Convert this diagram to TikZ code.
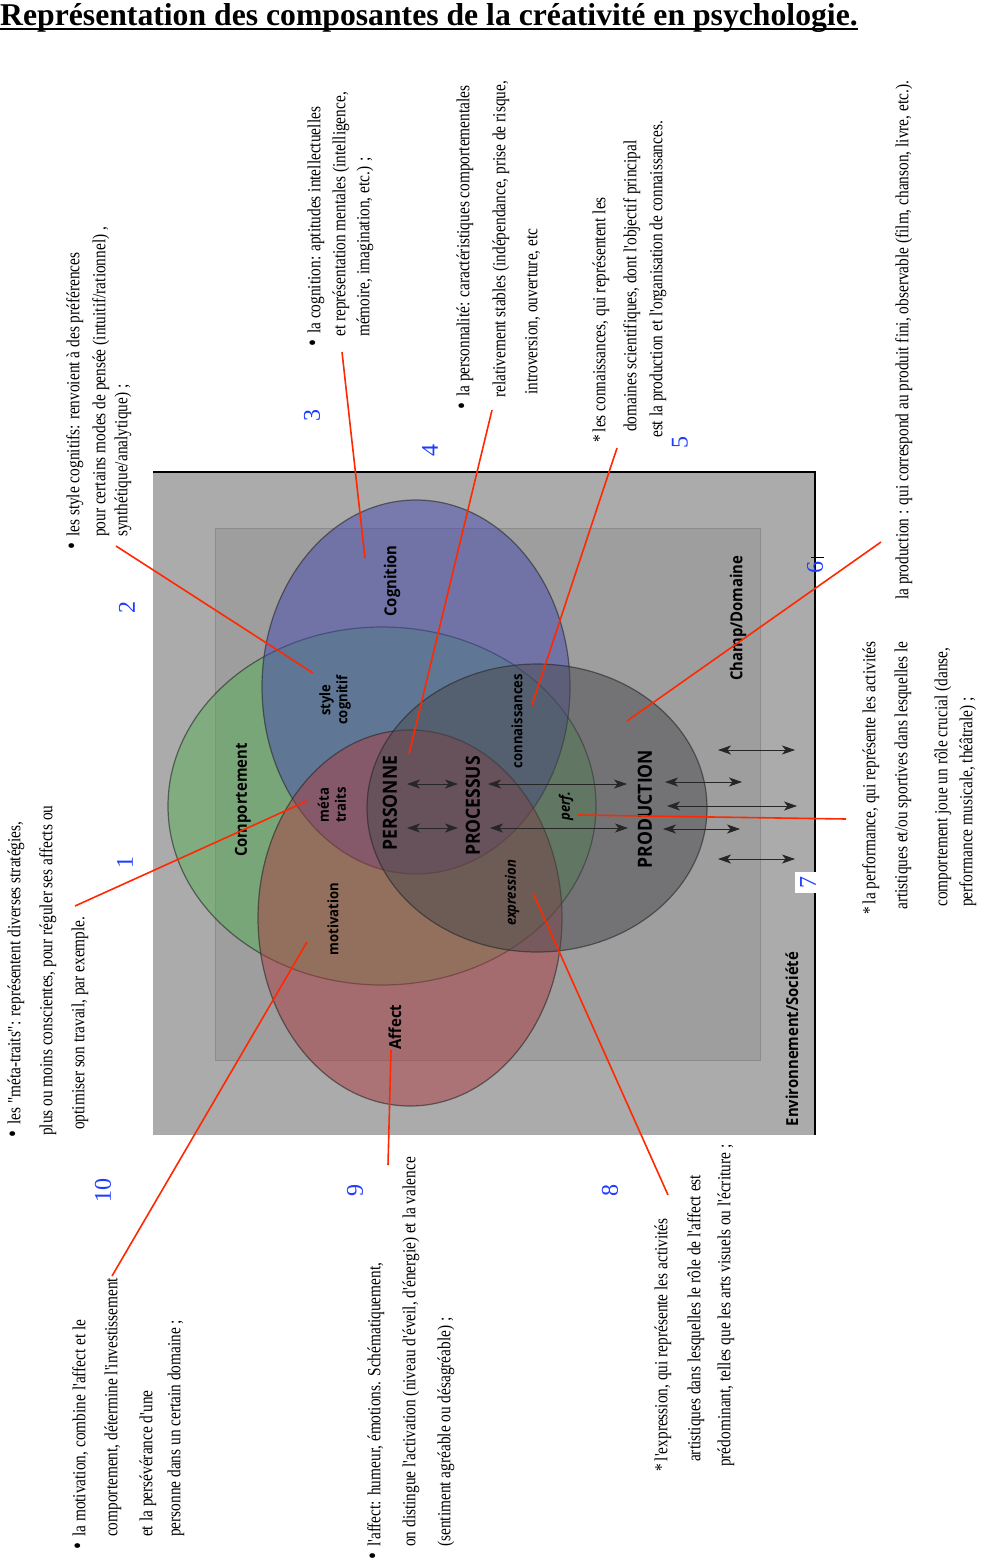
\documentclass[tikz,border=0pt]{standalone}
\usepackage{fontspec}
\setmainfont{Liberation Serif}
\newfontfamily\condfont[FakeStretch=0.83]{Liberation Serif}
\newfontfamily\lblfont[FakeStretch=0.9]{Open Sans}
\usetikzlibrary{arrows.meta}
\definecolor{envgray}{RGB}{171,171,171}
\definecolor{innergray}{RGB}{158,158,158}
\definecolor{cblue}{RGB}{70,74,176}
\definecolor{cgreen}{RGB}{86,174,86}
\definecolor{cred}{RGB}{172,60,66}
\definecolor{cprod}{RGB}{74,74,78}
\definecolor{leader}{RGB}{255,40,0}
\definecolor{numblue}{RGB}{30,60,255}
\newcommand{\noteline}[4]{\node[note] (#1) at (#2,#3) {#4};}
\newcommand{\bigbul}{{\fontsize{24}{20}\selectfont •}\hspace{6pt}}
\begin{document}
\begin{tikzpicture}[x=1pt,y=-1pt,
  note/.style={rotate=90,anchor=mid west,inner sep=0pt,font=\condfont\fontsize{18.5}{20}\selectfont},
  num/.style={rotate=90,inner sep=0pt,text=numblue,font=\fontsize{24}{28}\selectfont},
  lbl/.style={rotate=90,inner sep=0pt,font=\lblfont\bfseries\fontsize{16.5}{18}\selectfont},
  biglbl/.style={rotate=90,inner sep=0pt,font=\lblfont\bfseries\fontsize{19.5}{21}\selectfont},
  smalllbl/.style={rotate=90,inner sep=0pt,align=center,font=\lblfont\bfseries\fontsize{14.5}{17}\selectfont},
  itlbl/.style={rotate=90,inner sep=0pt,font=\lblfont\bfseries\itshape\fontsize{14.5}{17}\selectfont},
  lead/.style={draw=leader,line width=1.6pt},
  dbl/.style={{Stealth[length=13pt,width=9pt,inset=3.5pt]}-{Stealth[length=13pt,width=9pt,inset=3.5pt]},line width=0.8pt,black!85},
  venn/.style={fill opacity=0.5,draw opacity=0.6,draw=black!85,line width=1.2pt}
]
\useasboundingbox (0,0) rectangle (989,1561);
\fill[white] (0,0) rectangle (989,1561);

% title
\node[anchor=base west,inner sep=0pt,font=\bfseries\fontsize{31.7}{34}\selectfont] (title) at (0,25) {Représentation des composantes de la créativité en psychologie.};
\draw[line width=1.5pt] ([yshift=-4pt]title.base west) -- ([yshift=-4pt]title.base east);

% environment and domain rectangles
\fill[envgray] (153,472) rectangle (815,1135);
\draw[line width=1.6pt] (153,472) -- (815,472) -- (815,1135);
\filldraw[fill=innergray,draw=black!45,line width=1pt] (215,528) rectangle (760,1060);

% ellipses
\path[venn,fill=cgreen] (382,806) ellipse [x radius=214,y radius=179];
\path[venn,fill=cblue] (416,687) ellipse [x radius=154,y radius=187];
\path[venn,fill=cred] (410,918) ellipse [x radius=152,y radius=188];
\path[venn,fill=cprod] (537,808) ellipse [x radius=170,y radius=144];

% labels
\node[lbl] (cog) at (392,581) {Cognition};
\node[lbl] (comp) at (243,800) {Comportement};
\node[lbl] (aff) at (395,1027) {Affect};
\node[smalllbl] (style) at (335,700) {style\\cognitif};
\node[smalllbl] (meta) at (332,805) {méta\\traits};
\node[smalllbl] (motiv) at (333,919) {motivation};
\node[biglbl] (pers) at (390,803) {PERSONNE};
\node[biglbl] (proc) at (473,806) {PROCESSUS};
\node[smalllbl] (conn) at (517,721) {connaissances};
\node[itlbl] (expr) at (512,893) {expression};
\node[itlbl] (perf) at (566,806) {perf.};
\node[biglbl] (prod) at (645,809) {PRODUCTION};
\node[lbl] (champ) at (738,618) {Champ/Domaine};
\node[lbl] (envt) at (792,1039) {Environnement/Société};

% arrows
\coordinate (a1l) at (407,784); \coordinate (a1r) at (458,784);
\coordinate (a2l) at (407,828); \coordinate (a2r) at (458,828);
\coordinate (a3l) at (488,784); \coordinate (a3r) at (627,784);
\coordinate (a4l) at (490,828); \coordinate (a4r) at (628,828);
\coordinate (a5l) at (718,750); \coordinate (a5r) at (795,750);
\coordinate (a6l) at (665,782); \coordinate (a6r) at (742,782);
\coordinate (a7l) at (667,806); \coordinate (a7r) at (797,806);
\coordinate (a8l) at (663,829); \coordinate (a8r) at (740,829);
\coordinate (a9l) at (718,859); \coordinate (a9r) at (795,859);
\foreach \i in {1,...,9} {\draw[dbl] (a\i l) -- (a\i r);}

% white box for 7 and tick near 6
\fill[white] (795,872) rectangle (822,893);
\draw[line width=1pt] (811,557) -- (824,557);

% numbers
\node[num] (n1) at (125,862) {1};
\node[num] (n2) at (127,607) {2};
\node[num] (n3) at (312,415) {3};
\node[num] (n4) at (430,450) {4};
\node[num] (n5) at (680,442) {5};
\node[num] (n6) at (815,567) {6};
\node[num] (n7) at (808,882) {7};
\node[num] (n8) at (610,1190) {8};
\node[num] (n9) at (355,1190) {9};
\node[num] (n10) at (103,1190) {10};

% notes
\noteline{tA1}{18}{1138}{\bigbul les "méta-traits": représentent diverses stratégies,}
\noteline{tA2}{50}{1136}{plus ou moins conscientes, pour réguler ses affects ou}
\noteline{tA3}{82}{1130}{optimiser son travail, par exemple.}

\noteline{tB1}{77}{550}{\bigbul les style cognitifs: renvoient à des préférences}
\noteline{tB2}{103}{537}{pour certains modes de pensée (intuitif/rationnel) ,}
\noteline{tB3}{125}{537}{synthétique/analytique) ;}

\noteline{tC1}{318}{347}{\bigbul la cognition: aptitudes intellectuelles}
\noteline{tC2}{343}{337}{et représentation mentales (intelligence,}
\noteline{tC3}{367}{337}{mémoire, imagination, etc.) ;}

\noteline{tD1}{467}{410}{\bigbul la personnalité: caractéristiques comportementales}
\noteline{tD2}{503}{398}{relativement stables (indépendance, prise de risque,}
\noteline{tD3}{535}{395}{introversion, ouverture, etc}

\noteline{tE1}{603}{443}{*\hspace{3pt}les connaissances, qui représentent les}
\noteline{tE2}{634}{432}{domaines scientifiques, dont l'objectif principal}
\noteline{tE3}{660}{438}{est la production et l'organisation de connaissances.}

\noteline{tF1}{906}{600}{la production : qui correspond au produit fini, observable (film, chanson, livre, etc.).}

\noteline{tG1}{873}{915}{*\hspace{3pt}la performance, qui représente les activités}
\noteline{tG2}{905}{910}{artistiques et/ou sportives dans lesquelles le}
\noteline{tG3}{945}{907}{comportement joue un rôle crucial (danse,}
\noteline{tG4}{970}{907}{performance musicale, théâtrale) ;}

\noteline{tH1}{83}{1550}{\bigbul la motivation, combine l'affect et le}
\noteline{tH2}{115}{1537}{comportement, détermine l'investissement}
\noteline{tH3}{150}{1537}{et la persévérance d'une}
\noteline{tH4}{178}{1537}{personne dans un certain domaine ;}

\noteline{tI1}{378}{1560}{\bigbul l'affect: humeur, émotions. Schématiquement,}
\noteline{tI2}{413}{1547}{on distingue l'activation (niveau d'éveil, d'énergie) et la valence}
\noteline{tI3}{448}{1547}{(sentiment agréable ou désagréable) ;}

\noteline{tJ1}{665}{1472}{*\hspace{3pt}l'expression, qui représente les activités}
\noteline{tJ2}{698}{1462}{artistiques dans lesquelles le rôle de l'affect est}
\noteline{tJ3}{728}{1467}{prédominant, telles que les arts visuels ou l'écriture ;}

% leader lines
\coordinate (s1) at (75,906);   \coordinate (e1) at (307,801);
\coordinate (s2) at (116,546);  \coordinate (e2) at (313,673);
\coordinate (s3) at (342,352);  \coordinate (e3) at (365,558);
\coordinate (s4) at (492,410);  \coordinate (e4) at (409,754);
\coordinate (s5) at (617,448);  \coordinate (e5) at (532,705);
\coordinate (s6) at (881,542);  \coordinate (e6) at (627,721);
\coordinate (s7) at (846,819);  \coordinate (e7) at (578,815);
\coordinate (s8) at (668,1195); \coordinate (e8) at (533,893);
\coordinate (s9) at (388,1165); \coordinate (e9) at (391,1050);
\coordinate (s10) at (112,1276); \coordinate (e10) at (307,942);
\foreach \i in {1,...,10} {\draw[lead] (s\i) -- (e\i);}
\end{tikzpicture}
\end{document}
